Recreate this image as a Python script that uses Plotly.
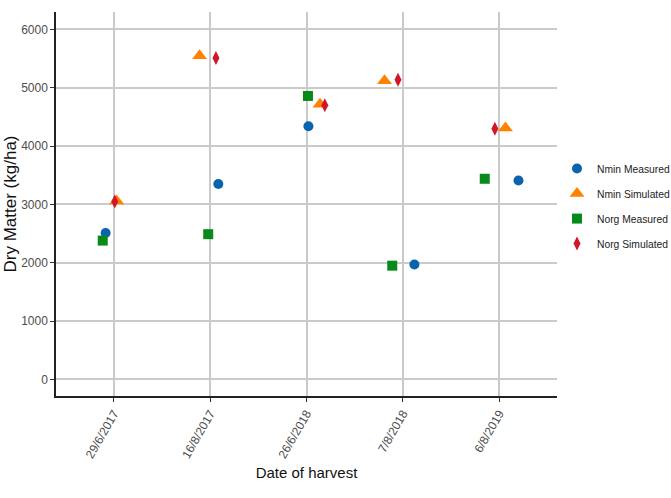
import plotly.graph_objects as go

# Harvest dates (categorical x axis)
dates = ["29/6/2017", "16/8/2017", "26/6/2018", "7/8/2018", "6/8/2019"]

# Dry matter (kg/ha) per harvest date
nmin_measured = [2510, 3350, 4340, 1970, 3410]
nmin_simulated = [3060, 5550, 4720, 5120, 4310]
norg_measured = [2380, 2490, 4860, 1950, 3440]
norg_simulated = [3050, 5510, 4700, 5140, 4300]

# Horizontal jitter applied to each series so overlapping points stay visible
jitter = {
    "Nmin Measured": [-0.085, 0.085, 0.02, 0.12, 0.2],
    "Nmin Simulated": [0.03, -0.11, 0.14, -0.19, 0.065],
    "Norg Measured": [-0.115, -0.02, 0.015, -0.11, -0.15],
    "Norg Simulated": [0.01, 0.06, 0.19, -0.05, -0.045],
}

series = [
    ("Nmin Measured", nmin_measured, "circle", 10, "#0a64ad"),
    ("Nmin Simulated", nmin_simulated, "triangle-up", 13, "#ff8200"),
    ("Norg Measured", norg_measured, "square", 10, "#078a1a"),
    ("Norg Simulated", norg_simulated, "diamond-tall", 10, "#d0172a"),
]

fig = go.Figure()
for name, vals, sym, size, color in series:
    xs = [i + d for i, d in enumerate(jitter[name])]
    fig.add_trace(go.Scatter(
        x=xs, y=vals, mode="markers", name=name, legendgroup=name,
        marker=dict(symbol=sym, size=size, color=color, line=dict(width=0)),
    ))

axis_font = dict(family="Liberation Sans, Arial, sans-serif", size=12, color="#4d4d4d")
title_font = dict(family="Liberation Sans, Arial, sans-serif", size=17, color="#111111")

fig.update_layout(
    width=671, height=498,
    margin=dict(l=56, r=114, t=12, b=102, autoexpand=False),
    paper_bgcolor="white", plot_bgcolor="white",
    showlegend=True,
    legend=dict(
        x=1.0, y=0.63, xanchor="left", yanchor="top",
        font=dict(family="Liberation Sans, Arial, sans-serif", size=10.3, color="#222222"),
        tracegroupgap=6, itemwidth=30, bgcolor="rgba(0,0,0,0)",
    ),
    xaxis=dict(
        range=[-0.6, 4.6], tickmode="array", tickvals=list(range(len(dates))),
        ticktext=dates, tickangle=-60, tickfont=axis_font,
        showgrid=True, gridcolor="#cacaca", gridwidth=1.5, zeroline=False,
        showline=True, linecolor="#222222", linewidth=1.5,
        ticks="outside", ticklen=4, tickcolor="#333333",
        title=dict(text="Date of harvest", font=dict(family="Liberation Sans, Arial, sans-serif", size=15, color="#111111"), standoff=8),
    ),
    yaxis=dict(
        range=[-285, 6300], tickmode="array", tickvals=[0, 1000, 2000, 3000, 4000, 5000, 6000],
        tickfont=axis_font,
        showgrid=True, gridcolor="#cacaca", gridwidth=1.5, zeroline=False,
        showline=True, linecolor="#222222", linewidth=1.5,
        ticks="outside", ticklen=4, tickcolor="#333333",
        title=dict(text="Dry Matter (kg/ha)", font=title_font, standoff=0),
    ),
)

fig.write_html("out.html")
